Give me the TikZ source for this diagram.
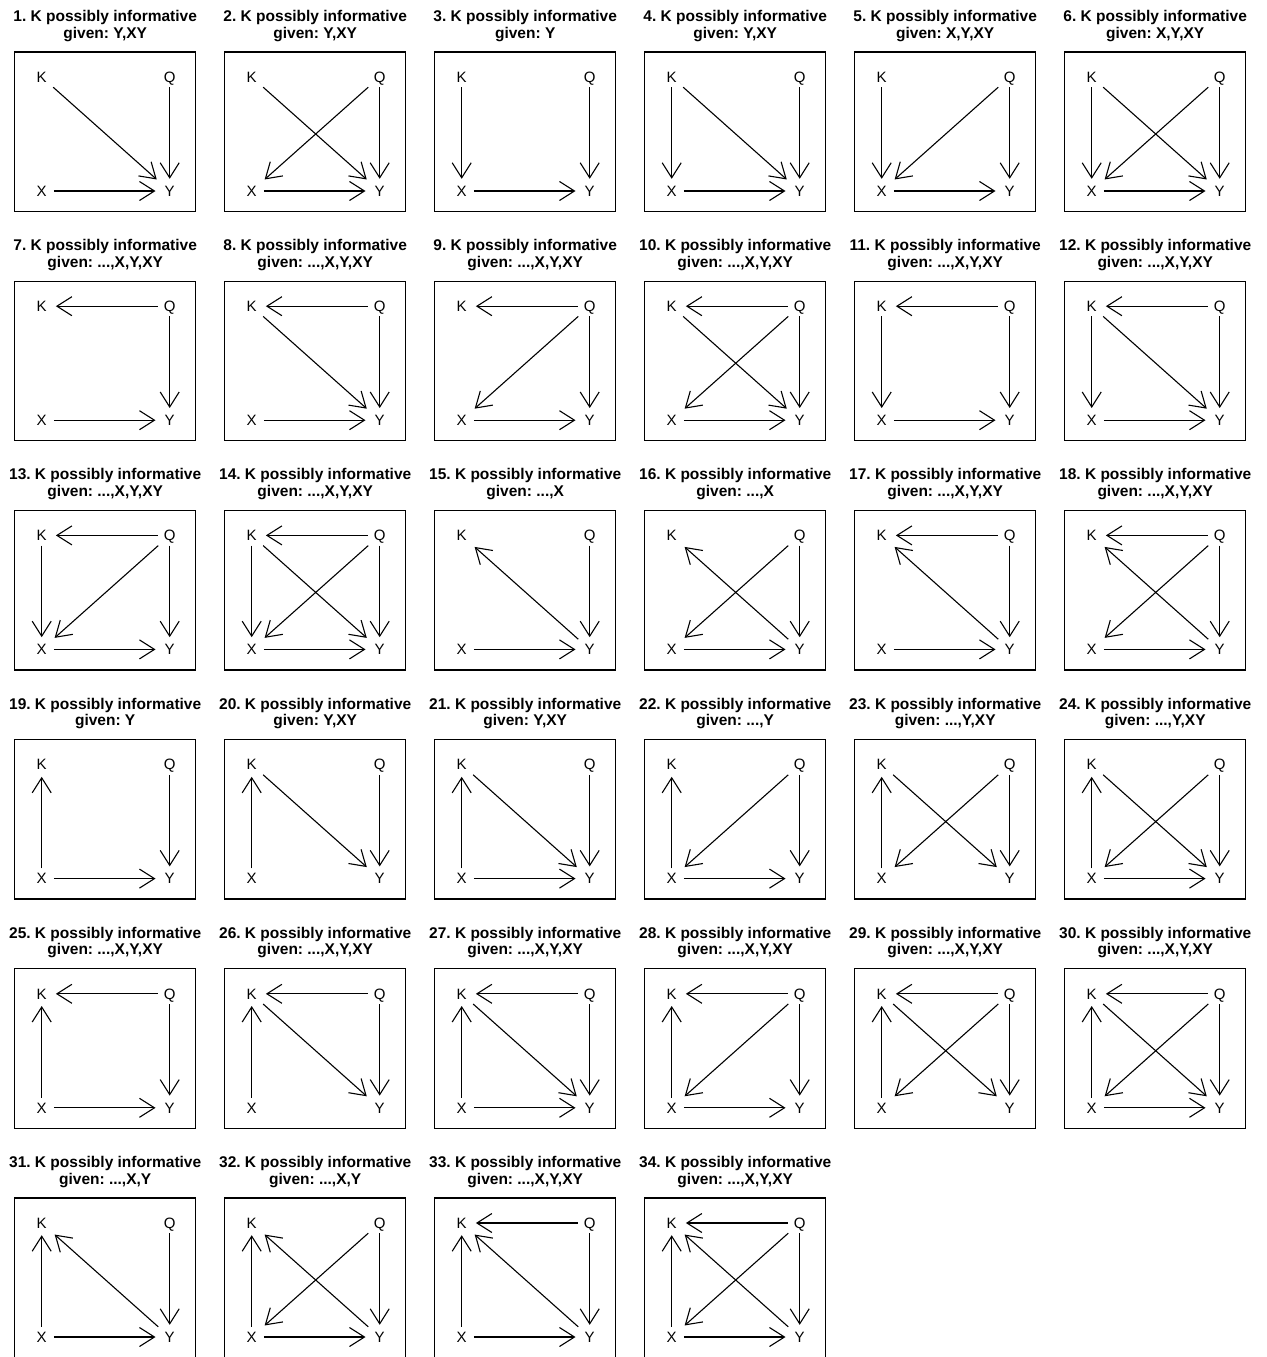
\documentclass[tikz,border=0pt]{standalone}
\usepackage{fontspec}
\setmainfont{Liberation Sans}
\usetikzlibrary{arrows.meta}
\frenchspacing

\begin{document}
\begin{tikzpicture}[x=1pt, y=-1pt,
  var/.style={font=\fontsize{15}{15}\selectfont, text height=10.7pt, text depth=0pt, inner sep=0pt, minimum width=24pt, minimum height=20pt},
  frame/.style={draw, line width=1.3pt},
  ttl/.style={align=center, inner sep=0pt, anchor=south, font=\fontsize{15.5}{16.5}\selectfont\bfseries},
  arr/.style={-{Straight Barb[length=15pt, width=19pt]}, line width=1.1pt, shorten >=2pt}
]
  \useasboundingbox (0,0) rectangle (1266,1357);
  % panel number / given / edges (from/to)
  \foreach \n/\g/\e in {
    1/{Y,XY}/{k/y,q/y,x/y},
    2/{Y,XY}/{k/y,q/x,q/y,x/y},
    3/{Y}/{k/x,q/y,x/y},
    4/{Y,XY}/{k/x,k/y,q/y,x/y},
    5/{X,Y,XY}/{k/x,q/x,q/y,x/y},
    6/{X,Y,XY}/{k/x,k/y,q/x,q/y,x/y},
    7/{...,X,Y,XY}/{q/k,q/y,x/y},
    8/{...,X,Y,XY}/{q/k,k/y,q/y,x/y},
    9/{...,X,Y,XY}/{q/k,q/x,q/y,x/y},
    10/{...,X,Y,XY}/{q/k,k/y,q/x,q/y,x/y},
    11/{...,X,Y,XY}/{q/k,k/x,q/y,x/y},
    12/{...,X,Y,XY}/{q/k,k/x,k/y,q/y,x/y},
    13/{...,X,Y,XY}/{q/k,k/x,q/x,q/y,x/y},
    14/{...,X,Y,XY}/{q/k,k/x,k/y,q/x,q/y,x/y},
    15/{...,X}/{y/k,q/y,x/y},
    16/{...,X}/{y/k,q/x,q/y,x/y},
    17/{...,X,Y,XY}/{q/k,y/k,q/y,x/y},
    18/{...,X,Y,XY}/{q/k,y/k,q/x,q/y,x/y},
    19/{Y}/{x/k,q/y,x/y},
    20/{Y,XY}/{x/k,k/y,q/y},
    21/{Y,XY}/{x/k,k/y,q/y,x/y},
    22/{...,Y}/{x/k,q/x,q/y,x/y},
    23/{...,Y,XY}/{x/k,k/y,q/x,q/y},
    24/{...,Y,XY}/{x/k,k/y,q/x,q/y,x/y},
    25/{...,X,Y,XY}/{q/k,x/k,q/y,x/y},
    26/{...,X,Y,XY}/{q/k,x/k,k/y,q/y},
    27/{...,X,Y,XY}/{q/k,x/k,k/y,q/y,x/y},
    28/{...,X,Y,XY}/{q/k,x/k,q/x,q/y,x/y},
    29/{...,X,Y,XY}/{q/k,x/k,k/y,q/x,q/y},
    30/{...,X,Y,XY}/{q/k,x/k,k/y,q/x,q/y,x/y},
    31/{...,X,Y}/{x/k,y/k,q/y,x/y},
    32/{...,X,Y}/{x/k,y/k,q/x,q/y,x/y},
    33/{...,X,Y,XY}/{q/k,x/k,y/k,q/y,x/y},
    34/{...,X,Y,XY}/{q/k,x/k,y/k,q/x,q/y,x/y}} {
    \pgfmathtruncatemacro\col{mod(\n-1,6)}
    \pgfmathtruncatemacro\row{(\n-1)/6}
    \pgfmathsetmacro\cx{105.2+210*\col}
    \pgfmathsetmacro\ty{52+229.2*\row}
    \node[ttl] (t\n) at (\cx,\ty-10.5) {\n. K possibly informative\\given: \g};
    \draw[frame] (\cx-90.5,\ty) rectangle (\cx+90.5,\ty+159.5);
    \node[var] (k\n) at (\cx-63.5,\ty+25) {K};
    \node[var] (q\n) at (\cx+64.5,\ty+25) {Q};
    \node[var] (x\n) at (\cx-63.5,\ty+139) {X};
    \node[var] (y\n) at (\cx+64.5,\ty+139) {Y};
    \foreach \a/\b in \e {
      \draw[arr] (\a\n) -- (\b\n);
    }
  }
\end{tikzpicture}
\end{document}
